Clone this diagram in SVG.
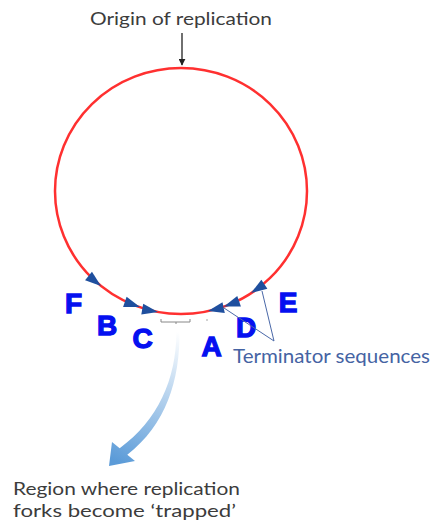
<svg xmlns="http://www.w3.org/2000/svg" width="437" height="526" viewBox="0 0 437 526">
<style>
.lbl{font-family:"Liberation Sans",Arial,sans-serif;font-weight:bold;font-size:28px;fill:#0510f0;stroke:#0510f0;stroke-width:1.3px;text-anchor:middle}
.txt{font-family:"Lato","Liberation Sans",sans-serif;font-size:18px;fill:#3c3c3c}
.term{font-family:"Lato","Liberation Sans",sans-serif;font-size:19px;fill:#4563a3}
.ah{fill:#1f4f9e}
</style>
<defs>
<path id="tri" d="M0,0 L-16,-5.5 L-16,5.5 Z"/>
<marker id="blk" viewBox="0 0 10 10" refX="9" refY="5" markerWidth="7" markerHeight="7" markerUnits="userSpaceOnUse" orient="auto">
<path d="M0,0 L10,5 L0,10 Z" fill="#222"/>
</marker>
<linearGradient id="bg" gradientUnits="userSpaceOnUse" x1="178" y1="332" x2="118" y2="462">
<stop offset="0" stop-color="#ffffff"/>
<stop offset="1" stop-color="#5b9bd8"/>
</linearGradient>
</defs>
<g id="plasmid">
<ellipse cx="181" cy="191" rx="126" ry="123" fill="none" stroke="#ff3030" stroke-width="2.5"/>
</g>
<g id="origin">
<text class="txt" x="90" y="25" textLength="182" lengthAdjust="spacingAndGlyphs">Origin of replication</text>
</g>
<g id="trapped-region">
<path d="M161,319 L161,322 L190,322 L190,319 M176,322 L176,324" fill="none" stroke="#888" stroke-width="1"/>
<circle cx="207" cy="320" r="0.8" fill="#999"/>
<text class="txt" x="13" y="495" textLength="227" lengthAdjust="spacingAndGlyphs">Region where replication</text>
<text class="txt" x="13" y="517" textLength="223" lengthAdjust="spacingAndGlyphs">forks become ‘trapped’</text>
</g>
<g id="terminators">
<use href="#tri" class="ah" transform="translate(101,286) rotate(38.8)"/>
<use href="#tri" class="ah" transform="translate(140,307) rotate(18.6)"/>
<use href="#tri" class="ah" transform="translate(158,312) rotate(10.2)"/>
<use href="#tri" class="ah" transform="translate(208,311) rotate(167.9)"/>
<use href="#tri" class="ah" transform="translate(224,306.6) rotate(160.5)"/>
<use href="#tri" class="ah" transform="translate(251,293) rotate(146.8)"/>
<text class="lbl" x="73.5" y="313">F</text>
<text class="lbl" x="107" y="335">B</text>
<text class="lbl" x="142.5" y="348">C</text>
<text class="lbl" x="211.5" y="356">A</text>
<text class="lbl" x="246" y="337">D</text>
<text class="lbl" x="288" y="312">E</text>
<text class="term" x="233" y="363" textLength="197" lengthAdjust="spacingAndGlyphs">Terminator sequences</text>
</g>
<g id="connectors">
<line x1="182" y1="33" x2="182" y2="65" stroke="#222" stroke-width="1.3" marker-end="url(#blk)"/>
<path d="M224,308 L274,341 L262,291" fill="none" stroke="#4a68a8" stroke-width="1"/>
<path d="M176.5,332 C176,380 158,420 119.7,448.3 L112,442 L109,466 L135,461 L127.3,454.7 C166,425 180,380 179.5,332 Z" fill="url(#bg)"/>
</g>
</svg>
